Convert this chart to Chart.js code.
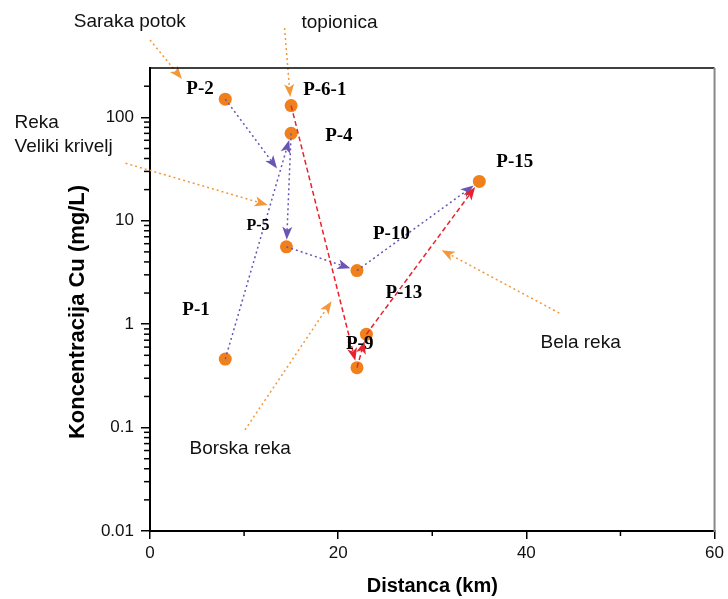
<!DOCTYPE html>
<html>
<head>
<meta charset="utf-8">
<script src="https://cdn.jsdelivr.net/npm/chart.js@4.4.0/dist/chart.umd.min.js"></script>
<style>
    html, body { margin: 0; padding: 0; background: #fff; }
    canvas { display: block; }
</style>
</head>
<body>
<canvas id="cuChart" width="728" height="599"></canvas>
<script>
// Sampling points: distance along the river and dissolved Cu
const pointNames = ['P-1', 'P-2', 'P-4', 'P-5', 'P-6-1', 'P-9', 'P-10', 'P-13', 'P-15'];
const distanceKm = [8, 8, 15, 14.5, 15, 22, 22, 23, 35];
const copperMgL = [0.46, 150, 70, 5.6, 130, 0.38, 3.3, 0.8, 24];

// Where Saraka potok joins the main stream
const junction = { km: 13.5, mgL: 32 };

// Flow direction between points
const upperFlow = [['P-2', 'junction'], ['P-1', 'P-4'], ['P-4', 'P-5'], ['P-5', 'P-10'], ['P-10', 'P-15']];
const lowerFlow = [['P-6-1', 'P-9'], ['P-9', 'P-13'], ['P-13', 'P-15']];

// Tributaries / sources: label anchor and arrow (km, mg/L)
const sourceNames = [['Saraka potok'], ['topionica'], ['Reka', 'Veliki krivelj'], ['Borska reka'], ['Bela reka']];
const sourceTextAt = [[-8.1, 840], [16.1, 820], [-14.4, 88], [4.2, 0.062], [41.5, 0.66]];
const sourceArrowFrom = [[0, 560], [14.3, 730], [-2.6, 36], [10.1, 0.095], [43.5, 1.28]];
const sourceArrowTo = [[3.4, 235], [14.9, 157], [12.5, 14.2], [19.3, 1.67], [31, 5.2]];

// Axis ticks
const xMajorTicks = [0, 20, 40, 60];
const xMinorTicks = [10, 30, 50];
const yMajorTicks = [0.01, 0.1, 1, 10, 100];

// Label placement next to each marker (px)
const labelOffset = {
    'P-1': [-43, -49], 'P-2': [-39, -10], 'P-4': [34, 3], 'P-5': [-40, -21],
    'P-6-1': [12, -15], 'P-9': [-11, -24], 'P-10': [16, -36], 'P-13': [19, -41], 'P-15': [17, -19]
};

const COLORS = {
    marker: '#f0801c',
    upper: '#6a55b4',
    lower: '#e8222c',
    source: '#f4973a'
};

const SANS = "'Liberation Sans', Arial, sans-serif";
const SERIF = "'Liberation Serif', 'Times New Roman', serif";

function drawArrow(ctx, x0, y0, x1, y1, color, dash, trim) {
    const a = Math.atan2(y1 - y0, x1 - x0);
    const cos = Math.cos(a), sin = Math.sin(a);
    const tx = x1 - cos * trim, ty = y1 - sin * trim;
    const len = 13, half = 5;
    ctx.save();
    ctx.strokeStyle = color;
    ctx.lineWidth = 1.5;
    ctx.setLineDash(dash);
    ctx.beginPath();
    ctx.moveTo(x0, y0);
    ctx.lineTo(tx - cos * len * 0.6, ty - sin * len * 0.6);
    ctx.stroke();
    ctx.setLineDash([]);
    ctx.fillStyle = color;
    ctx.beginPath();
    ctx.moveTo(tx, ty);
    ctx.lineTo(tx - len * cos + half * sin, ty - len * sin - half * cos);
    ctx.lineTo(tx - len * 0.75 * cos, ty - len * 0.75 * sin);
    ctx.lineTo(tx - len * cos - half * sin, ty - len * sin + half * cos);
    ctx.closePath();
    ctx.fill();
    ctx.restore();
}

function pointPx(chart, name) {
    const xs = chart.scales.x, ys = chart.scales.y;
    if (name === 'junction') {
        return { x: xs.getPixelForValue(junction.km), y: ys.getPixelForValue(junction.mgL), node: false };
    }
    const i = pointNames.indexOf(name);
    return { x: xs.getPixelForValue(distanceKm[i]), y: ys.getPixelForValue(copperMgL[i]), node: true };
}

// Frame, minor ticks and axis titles
const framePlugin = {
    id: 'frame',
    afterDraw(chart) {
        const { ctx, chartArea: ca } = chart;
        const xs = chart.scales.x, ys = chart.scales.y;
        ctx.save();
        ctx.strokeStyle = '#000';
        ctx.lineWidth = 1.5;
        ctx.beginPath();
        ctx.moveTo(ca.left, ca.top);
        ctx.lineTo(ca.right, ca.top);
        ctx.stroke();
        ctx.strokeStyle = '#888';
        ctx.lineWidth = 2;
        ctx.beginPath();
        ctx.moveTo(ca.right, ca.top);
        ctx.lineTo(ca.right, ca.bottom + 1);
        ctx.stroke();

        ctx.strokeStyle = '#000';
        ctx.lineWidth = 1.5;
        xMinorTicks.forEach(v => {
            const px = xs.getPixelForValue(v);
            ctx.beginPath();
            ctx.moveTo(px, ca.bottom);
            ctx.lineTo(px, ca.bottom + 5);
            ctx.stroke();
        });
        yMajorTicks.forEach(d => {
            for (let m = 2; m <= 9; m++) {
                const v = d * m;
                if (v >= ys.max) continue;
                const py = ys.getPixelForValue(v);
                ctx.beginPath();
                ctx.moveTo(ca.left - 6, py);
                ctx.lineTo(ca.left, py);
                ctx.stroke();
            }
        });

        ctx.fillStyle = '#000';
        ctx.font = 'bold 20px ' + SANS;
        ctx.textAlign = 'center';
        ctx.textBaseline = 'middle';
        ctx.fillText('Distanca (km)', (ca.left + ca.right) / 2, 586);
        ctx.translate(78, 312);
        ctx.rotate(-Math.PI / 2);
        ctx.font = 'bold 22px ' + SANS;
        ctx.fillText('Koncentracija Cu (mg/L)', 0, 0);
        ctx.restore();
    }
};

// Flow arrows, source arrows and text labels
const annotatePlugin = {
    id: 'annotate',
    afterDatasetsDraw(chart) {
        const { ctx } = chart;
        const xs = chart.scales.x, ys = chart.scales.y;

        upperFlow.forEach(([a, b]) => {
            const p = pointPx(chart, a), q = pointPx(chart, b);
            drawArrow(ctx, p.x, p.y, q.x, q.y, COLORS.upper, [2, 3], q.node ? 7 : 0);
        });
        lowerFlow.forEach(([a, b]) => {
            const p = pointPx(chart, a), q = pointPx(chart, b);
            drawArrow(ctx, p.x, p.y, q.x, q.y, COLORS.lower, [5, 3], q.node ? 7 : 0);
        });

        sourceArrowFrom.forEach((from, i) => {
            const to = sourceArrowTo[i];
            drawArrow(ctx,
                xs.getPixelForValue(from[0]), ys.getPixelForValue(from[1]),
                xs.getPixelForValue(to[0]), ys.getPixelForValue(to[1]),
                COLORS.source, [2, 3], 0);
        });

        ctx.save();
        ctx.fillStyle = '#111';
        ctx.textAlign = 'left';
        ctx.textBaseline = 'middle';
        ctx.font = '19px ' + SANS;
        sourceNames.forEach((lines, i) => {
            const x = xs.getPixelForValue(sourceTextAt[i][0]);
            const y = ys.getPixelForValue(sourceTextAt[i][1]);
            lines.forEach((t, k) => ctx.fillText(t, x, y + k * 24));
        });

        ctx.fillStyle = '#000';
        pointNames.forEach((name, i) => {
            const off = labelOffset[name];
            ctx.font = (name === 'P-5' ? 'bold 16px ' : 'bold 19px ') + SERIF;
            ctx.fillText(name,
                xs.getPixelForValue(distanceKm[i]) + off[0],
                ys.getPixelForValue(copperMgL[i]) + off[1]);
        });
        ctx.restore();
    }
};

const ctx = document.getElementById('cuChart').getContext('2d');
new Chart(ctx, {
    type: 'scatter',
    data: {
        datasets: [{
            label: 'Cu',
            data: distanceKm.map((x, i) => ({ x: x, y: copperMgL[i] })),
            backgroundColor: COLORS.marker,
            borderWidth: 0,
            pointRadius: 6.5
        }]
    },
    options: {
        responsive: false,
        animation: false,
        devicePixelRatio: 1,
        layout: { padding: { top: 68, right: 10, left: 0, bottom: 0 } },
        plugins: {
            legend: { display: false },
            tooltip: { enabled: false }
        },
        scales: {
            x: {
                type: 'linear',
                min: 0,
                max: 60,
                afterFit: s => { s.height = 68; },
                afterBuildTicks: s => { s.ticks = xMajorTicks.map(v => ({ value: v })); },
                border: { color: '#000', width: 2 },
                grid: { drawOnChartArea: false, tickLength: 8, color: '#000', lineWidth: 1.5 },
                ticks: {
                    color: '#111',
                    padding: 4,
                    font: { family: SANS, size: 17 }
                }
            },
            y: {
                type: 'logarithmic',
                min: 0.01,
                max: 300,
                afterFit: s => { s.width = 150; },
                afterBuildTicks: s => { s.ticks = yMajorTicks.map(v => ({ value: v })); },
                border: { color: '#000', width: 2 },
                grid: { drawOnChartArea: false, tickLength: 9, color: '#000', lineWidth: 1.5 },
                ticks: {
                    color: '#111',
                    padding: 7,
                    font: { family: SANS, size: 17 },
                    callback: v => String(v)
                }
            }
        }
    },
    plugins: [framePlugin, annotatePlugin]
});
</script>
</body>
</html>
